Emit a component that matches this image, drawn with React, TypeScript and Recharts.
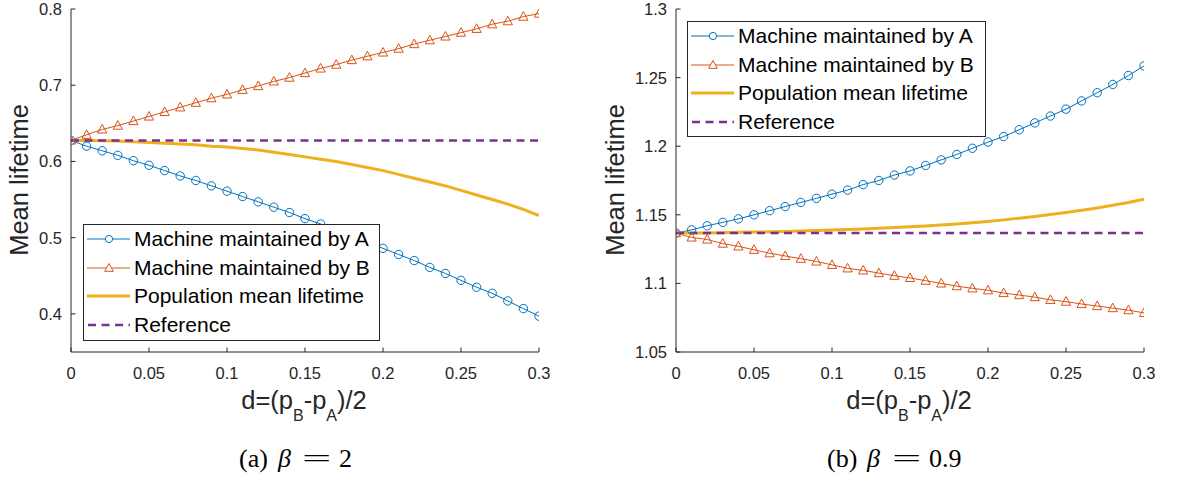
import React from "react";
import { LineChart, Line, XAxis, YAxis, Legend } from "recharts";

// d = (pB - pA)/2
const D_VALUES = [
  0, 0.01, 0.02, 0.03, 0.04, 0.05, 0.06, 0.07, 0.08, 0.09, 0.1, 0.11, 0.12, 0.13, 0.14, 0.15,
  0.16, 0.17, 0.18, 0.19, 0.2, 0.21, 0.22, 0.23, 0.24, 0.25, 0.26, 0.27, 0.28, 0.29, 0.3,
];
const X_TICKS = [0, 0.05, 0.1, 0.15, 0.2, 0.25, 0.3];

// (a) beta = 2
const LEFT_A = [
  0.6276, 0.62, 0.614, 0.608, 0.601, 0.595, 0.588, 0.581, 0.575, 0.568, 0.561, 0.554, 0.547, 0.54,
  0.533, 0.525, 0.518, 0.51, 0.502, 0.494, 0.486, 0.478, 0.47, 0.461, 0.453, 0.444, 0.435, 0.427,
  0.417, 0.407, 0.397,
];
const LEFT_B = [
  0.6276, 0.635, 0.642, 0.647, 0.653, 0.659, 0.665, 0.671, 0.677, 0.683, 0.688, 0.694, 0.699, 0.705,
  0.71, 0.716, 0.722, 0.727, 0.733, 0.738, 0.743, 0.748, 0.754, 0.759, 0.764, 0.769, 0.774, 0.78,
  0.784, 0.79, 0.794,
];
const LEFT_POP = [
  0.6276, 0.6275, 0.6272, 0.6267, 0.626, 0.625, 0.624, 0.623, 0.622, 0.62, 0.619, 0.617, 0.615,
  0.612, 0.609, 0.606, 0.603, 0.6, 0.596, 0.592, 0.588, 0.583, 0.578, 0.573, 0.568, 0.562, 0.556,
  0.55, 0.544, 0.537, 0.529,
];
const LEFT_REF = 0.6276;
const LEFT_Y_TICKS = [0.4, 0.5, 0.6, 0.7, 0.8];

// (b) beta = 0.9
const RIGHT_A = [
  1.1367, 1.139, 1.142, 1.1445, 1.147, 1.15, 1.153, 1.156, 1.159, 1.162, 1.165, 1.168, 1.172, 1.175,
  1.179, 1.182, 1.186, 1.19, 1.194, 1.1985, 1.203, 1.207, 1.212, 1.217, 1.222, 1.227, 1.233, 1.239,
  1.245, 1.2515, 1.2585,
];
const RIGHT_B = [
  1.1367, 1.1335, 1.132, 1.129, 1.127, 1.1245, 1.122, 1.12, 1.118, 1.116, 1.1135, 1.111, 1.1095,
  1.1075, 1.1056, 1.104, 1.102, 1.1, 1.098, 1.0964, 1.095, 1.093, 1.0915, 1.09, 1.088, 1.0867, 1.085,
  1.0835, 1.082, 1.0805, 1.0785,
];
const RIGHT_POP = [
  1.1367, 1.1367, 1.1368, 1.137, 1.1372, 1.1374, 1.1376, 1.1379, 1.1382, 1.1385, 1.1389, 1.1393,
  1.1397, 1.1402, 1.1407, 1.1413, 1.1419, 1.1426, 1.1433, 1.1442, 1.1452, 1.1463, 1.1475, 1.1488,
  1.1502, 1.1517, 1.1533, 1.155, 1.1569, 1.1589, 1.1613,
];
const RIGHT_REF = 1.1367;
const RIGHT_Y_TICKS = [1.05, 1.1, 1.15, 1.2, 1.25, 1.3];

const SERIES_NAMES = [
  "Machine maintained by A",
  "Machine maintained by B",
  "Population mean lifetime",
  "Reference",
];

const BLUE = "#0072BD";
const ORANGE = "#D95319";
const YELLOW = "#EDB120";
const PURPLE = "#7E2F8E";
const INK = "#262626";
const SANS = "'Liberation Sans', Arial, Helvetica, sans-serif";
const SERIF = "'Liberation Serif', 'Times New Roman', serif";
const TICK_LEN = 4.5;
const DASH = "8 5.5";

const buildRows = (a: number[], b: number[], pop: number[], ref: number) =>
  D_VALUES.map((d, i) => ({ d, a: a[i], b: b[i], pop: pop[i], ref }));

const BottomTick = (props: any) => {
  const { x, y, payload } = props;
  return (
    <g>
      <line x1={x} y1={y} x2={x} y2={y - TICK_LEN} stroke={INK} />
      <text x={x} y={y + 27} textAnchor="middle" fontSize={16.5} fontFamily={SANS} fill={INK}>
        {String(payload.value)}
      </text>
    </g>
  );
};

const TopTick = (props: any) => {
  const { x, y } = props;
  return <line x1={x} y1={y} x2={x} y2={y + TICK_LEN} stroke={INK} />;
};

const LeftTick = (props: any) => {
  const { x, y, payload } = props;
  return (
    <g>
      <line x1={x} y1={y} x2={x + TICK_LEN} y2={y} stroke={INK} />
      <text x={x - 9} y={y + 6} textAnchor="end" fontSize={16.5} fontFamily={SANS} fill={INK}>
        {String(payload.value)}
      </text>
    </g>
  );
};

const RightTick = (props: any) => {
  const { x, y } = props;
  return <line x1={x} y1={y} x2={x - TICK_LEN} y2={y} stroke={INK} />;
};

const circleDot = (props: any) => {
  const { cx, cy, index } = props;
  if (cx == null || cy == null) return <g key={`c${index}`} />;
  return <circle key={`c${index}`} cx={cx} cy={cy} r={4.2} fill="none" stroke={BLUE} strokeWidth={1} />;
};

const triangleDot = (props: any) => {
  const { cx, cy, index } = props;
  if (cx == null || cy == null) return <g key={`t${index}`} />;
  return (
    <path
      key={`t${index}`}
      d={`M${cx},${cy - 5}L${cx + 4.6},${cy + 3.6}L${cx - 4.6},${cy + 3.6}Z`}
      fill="none"
      stroke={ORANGE}
      strokeWidth={1}
    />
  );
};

const LegendSample = ({ i }: { i: number }) => {
  const y = 14;
  if (i === 0)
    return (
      <svg width={50} height={28}>
        <line x1={3} y1={y} x2={46} y2={y} stroke={BLUE} />
        <circle cx={25} cy={y} r={3.6} fill="#fff" stroke={BLUE} />
      </svg>
    );
  if (i === 1)
    return (
      <svg width={50} height={28}>
        <line x1={3} y1={y} x2={46} y2={y} stroke={ORANGE} />
        <path d={`M25,${y - 4.5}L29.3,${y + 3.3}L20.7,${y + 3.3}Z`} fill="#fff" stroke={ORANGE} />
      </svg>
    );
  if (i === 2)
    return (
      <svg width={50} height={28}>
        <line x1={3} y1={y} x2={46} y2={y} stroke={YELLOW} strokeWidth={3} />
      </svg>
    );
  return (
    <svg width={50} height={28}>
      <line x1={4} y1={y} x2={46} y2={y} stroke={PURPLE} strokeWidth={2.5} strokeDasharray={DASH} />
    </svg>
  );
};

const LegendBox = () => (
  <div
    style={{
      width: "100%",
      height: "100%",
      boxSizing: "border-box",
      border: `1px solid ${INK}`,
      background: "#fff",
      position: "relative",
    }}
  >
    {SERIES_NAMES.map((name, i) => (
      <div
        key={name}
        style={{
          position: "absolute",
          left: 0,
          top: 15 + 28.6 * i - 15,
          height: 28,
          display: "flex",
          alignItems: "center",
        }}
      >
        <LegendSample i={i} />
        <span
          style={{
            fontFamily: SANS,
            fontSize: 21,
            color: "#000",
            whiteSpace: "nowrap",
            lineHeight: "28px",
          }}
        >
          {name}
        </span>
      </div>
    ))}
  </div>
);

type PanelProps = {
  left: number;
  width: number;
  yAxisWidth: number;
  marginRight: number;
  yDomain: [number, number];
  yTicks: number[];
  rows: ReturnType<typeof buildRows>;
  legend: { left: number; top: number; width: number; height: number };
};

const Panel = ({ left, width, yAxisWidth, marginRight, yDomain, yTicks, rows, legend }: PanelProps) => (
  <div style={{ position: "absolute", left, top: 0 }}>
    <LineChart
      width={width}
      height={400}
      data={rows}
      margin={{ top: 9, right: marginRight, bottom: 0, left: 0 }}
    >
      <XAxis
        dataKey="d"
        type="number"
        domain={[0, 0.3]}
        ticks={X_TICKS}
        interval={0}
        allowDataOverflow
        height={48}
        tickSize={0}
        tickMargin={0}
        tickLine={false}
        axisLine={{ stroke: INK }}
        tick={<BottomTick />}
      />
      <XAxis
        xAxisId="top"
        orientation="top"
        dataKey="d"
        type="number"
        domain={[0, 0.3]}
        ticks={X_TICKS}
        interval={0}
        allowDataOverflow
        height={0}
        tickSize={0}
        tickMargin={0}
        tickLine={false}
        axisLine={{ stroke: INK }}
        tick={<TopTick />}
      />
      <YAxis
        type="number"
        domain={yDomain}
        ticks={yTicks}
        interval={0}
        allowDataOverflow
        width={yAxisWidth}
        tickSize={0}
        tickMargin={0}
        tickLine={false}
        axisLine={{ stroke: INK }}
        tick={<LeftTick />}
      />
      <YAxis
        yAxisId="right"
        orientation="right"
        type="number"
        domain={yDomain}
        ticks={yTicks}
        interval={0}
        allowDataOverflow
        width={0}
        tickSize={0}
        tickMargin={0}
        tickLine={false}
        axisLine={{ stroke: INK }}
        tick={<RightTick />}
      />
      <Legend
        layout="vertical"
        align="center"
        verticalAlign="middle"
        content={() => <LegendBox />}
        wrapperStyle={{ left: legend.left, top: legend.top, width: legend.width, height: legend.height }}
      />
      <Line
        dataKey="a"
        name={SERIES_NAMES[0]}
        stroke={BLUE}
        strokeWidth={1}
        dot={circleDot}
        activeDot={false}
        isAnimationActive={false}
      />
      <Line
        dataKey="b"
        name={SERIES_NAMES[1]}
        stroke={ORANGE}
        strokeWidth={1}
        dot={triangleDot}
        activeDot={false}
        isAnimationActive={false}
      />
      <Line
        dataKey="pop"
        name={SERIES_NAMES[2]}
        stroke={YELLOW}
        strokeWidth={3}
        dot={false}
        activeDot={false}
        isAnimationActive={false}
      />
      <Line
        dataKey="ref"
        name={SERIES_NAMES[3]}
        stroke={PURPLE}
        strokeWidth={2.5}
        strokeDasharray={DASH}
        dot={false}
        activeDot={false}
        isAnimationActive={false}
      />
    </LineChart>
  </div>
);

const XTitle = ({ cx }: { cx: number }) => (
  <text x={cx} y={409} textAnchor="middle" fontSize={25.5} fontFamily={SANS} fill={INK}>
    d=(p
    <tspan fontSize={16} dy={12}>B</tspan>
    <tspan dy={-12}>-p</tspan>
    <tspan fontSize={16} dy={12}>A</tspan>
    <tspan dy={-12}>)/2</tspan>
  </text>
);

const YTitle = ({ cx }: { cx: number }) => (
  <text
    x={cx}
    y={180}
    transform={`rotate(-90 ${cx} 180)`}
    textAnchor="middle"
    dominantBaseline="central"
    fontSize={25.5}
    fontFamily={SANS}
    fill={INK}
  >
    Mean lifetime
  </text>
);

const Caption = ({ label, value, x0, xBeta, xEq, xVal }: { label: string; value: string; x0: number; xBeta: number; xEq: number; xVal: number }) => (
  <g fontFamily={SERIF} fontSize={26} fill="#000">
    <text x={x0} y={467}>{label}</text>
    <text x={xBeta} y={467} fontStyle="italic">β</text>
    <text transform={`translate(${xEq} 467) scale(2 1)`}>=</text>
    <text x={xVal} y={467}>{value}</text>
  </g>
);

export default function App() {
  return (
    <div style={{ position: "absolute", left: 0, top: 0, width: 1179, height: 484, background: "#fff" }}>
      <Panel
        left={0}
        width={590}
        yAxisWidth={71}
        marginRight={51}
        yDomain={[0.35, 0.8]}
        yTicks={LEFT_Y_TICKS}
        rows={buildRows(LEFT_A, LEFT_B, LEFT_POP, LEFT_REF)}
        legend={{ left: 83, top: 224, width: 297, height: 117 }}
      />
      <Panel
        left={590}
        width={589}
        yAxisWidth={86}
        marginRight={35}
        yDomain={[1.05, 1.3]}
        yTicks={RIGHT_Y_TICKS}
        rows={buildRows(RIGHT_A, RIGHT_B, RIGHT_POP, RIGHT_REF)}
        legend={{ left: 97, top: 21, width: 299, height: 116 }}
      />
      <svg
        width={1179}
        height={484}
        style={{ position: "absolute", left: 0, top: 0, pointerEvents: "none" }}
      >
        <YTitle cx={18.6} />
        <YTitle cx={614.5} />
        <XTitle cx={304} />
        <XTitle cx={909} />
        <Caption label="(a)" value="2" x0={239} xBeta={278} xEq={302} xVal={339} />
        <Caption label="(b)" value="0.9" x0={827} xBeta={867} xEq={892} xVal={929} />
      </svg>
    </div>
  );
}
